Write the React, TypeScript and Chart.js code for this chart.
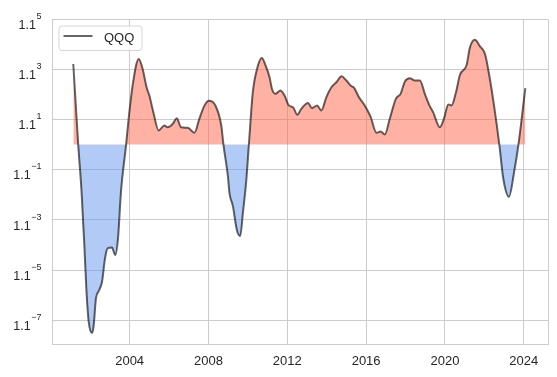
import React, { useEffect, useRef } from "react";
import { Chart, registerables } from "chart.js";

Chart.register(...registerables);

// Decimal years of the sampled points
const years = [
  2001.14, 2001.39, 2001.56, 2001.7, 2001.81, 2001.92, 2002.09, 2002.17, 2002.29, 2002.42,
  2002.6, 2002.75, 2002.88, 2003.1, 2003.27, 2003.41, 2003.56, 2003.82, 2003.95, 2004.15,
  2004.46, 2004.66, 2004.86, 2005.0, 2005.2, 2005.47, 2005.76, 2005.93, 2006.19, 2006.39,
  2006.61, 2006.95, 2007.29, 2007.54, 2007.8, 2008.02, 2008.35, 2008.65, 2008.76, 2008.98,
  2009.07, 2009.24, 2009.44, 2009.61, 2009.75, 2009.92, 2010.05, 2010.25, 2010.51, 2010.71,
  2010.9, 2011.1, 2011.22, 2011.39, 2011.65, 2011.86, 2012.08, 2012.29, 2012.51, 2012.71,
  2013.05, 2013.25, 2013.51, 2013.73, 2013.98, 2014.24, 2014.49, 2014.75, 2015.0, 2015.26,
  2015.37, 2015.64, 2015.93, 2016.22, 2016.53, 2016.74, 2016.95, 2017.2, 2017.51, 2017.75,
  2017.97, 2018.22, 2018.47, 2018.73, 2018.98, 2019.2, 2019.4, 2019.74, 2019.95, 2020.17,
  2020.34, 2020.56, 2020.76, 2021.1, 2021.27, 2021.52, 2021.78, 2022.03, 2022.25, 2022.49,
  2022.76, 2022.96, 2023.25, 2023.51, 2023.73, 2024.08,
];

// QQQ values expressed as exponents of 1.1 (value = 1.1^exponent)
const qqqExponent = [
  3.21, 0.0, -1.88, -4.0, -5.85, -7.04, -7.5, -7.24, -6.12, -5.85,
  -5.46, -4.53, -4.13, -4.1, -4.4, -3.73, -1.88, 0.0, 1.03, 2.35,
  3.41, 3.01, 2.28, 1.95, 1.3, 0.56, 0.76, 0.69, 0.83, 1.05,
  0.69, 0.67, 0.47, 1.03, 1.56, 1.75, 1.56, 0.76, 0.0, -1.22,
  -1.95, -2.45, -3.4, -3.64, -2.7, -1.42, 0.0, 2.08, 3.14, 3.45,
  3.14, 2.68, 2.22, 2.02, 2.15, 1.95, 1.56, 1.49, 1.19, 1.42,
  1.66, 1.45, 1.56, 1.36, 1.88, 2.28, 2.48, 2.72, 2.55, 2.32,
  2.28, 1.88, 1.56, 1.12, 0.47, 0.52, 0.4, 1.03, 1.82, 2.02,
  2.51, 2.64, 2.55, 2.55, 2.02, 1.58, 1.29, 0.69, 1.03, 1.6,
  1.56, 2.08, 2.77, 3.17, 3.87, 4.17, 3.91, 3.61, 2.75, 1.56,
  0.0, -1.35, -2.08, -1.09, 0.0, 2.25,
];

const xTickYears = [2004, 2008, 2012, 2016, 2020, 2024];
const yTickExponents = [-7, -5, -3, -1, 1, 3, 5];
const tickBase = "1.1";
const seriesLabel = "QQQ";

const FONT = "'Liberation Sans', Arial, sans-serif";
const TEXT = "#262626";
const GRID = "#cccccc";
const LINE = "rgba(0,0,0,0.6)";

const overlayPlugin = {
  id: "overlay",
  afterDraw(chart: any) {
    const ctx = chart.ctx as CanvasRenderingContext2D;
    const area = chart.chartArea;
    const yScale = chart.scales.y;
    ctx.save();
    // frame (top and right spines)
    ctx.strokeStyle = GRID;
    ctx.lineWidth = 1;
    ctx.beginPath();
    ctx.moveTo(Math.round(area.left) + 0.5, Math.round(area.top) + 0.5);
    ctx.lineTo(Math.round(area.right) + 0.5, Math.round(area.top) + 0.5);
    ctx.lineTo(Math.round(area.right) + 0.5, Math.round(area.bottom) + 0.5);
    ctx.stroke();

    // y tick labels with superscript exponents
    const rightX = area.left - 10.5;
    ctx.fillStyle = TEXT;
    ctx.textAlign = "left";
    ctx.textBaseline = "alphabetic";
    for (const e of yTickExponents) {
      const y = yScale.getPixelForValue(e);
      const expStr = e < 0 ? "\u2212" + Math.abs(e) : String(e);
      ctx.font = `9px ${FONT}`;
      const ew = ctx.measureText(expStr).width;
      ctx.fillText(expStr, rightX - ew, y - 0.3);
      ctx.font = `12.5px ${FONT}`;
      const bw = ctx.measureText(tickBase).width;
      ctx.fillText(tickBase, rightX - ew - 0.5 - bw, y + 9.6);
    }

    // legend
    const lx = 59, ly = 26, lw = 83, lh = 24.5, r = 3;
    ctx.beginPath();
    ctx.moveTo(lx + r, ly);
    ctx.lineTo(lx + lw - r, ly);
    ctx.quadraticCurveTo(lx + lw, ly, lx + lw, ly + r);
    ctx.lineTo(lx + lw, ly + lh - r);
    ctx.quadraticCurveTo(lx + lw, ly + lh, lx + lw - r, ly + lh);
    ctx.lineTo(lx + r, ly + lh);
    ctx.quadraticCurveTo(lx, ly + lh, lx, ly + lh - r);
    ctx.lineTo(lx, ly + r);
    ctx.quadraticCurveTo(lx, ly, lx + r, ly);
    ctx.closePath();
    ctx.fillStyle = "rgba(255,255,255,0.8)";
    ctx.fill();
    ctx.strokeStyle = "rgba(204,204,204,0.8)";
    ctx.lineWidth = 1;
    ctx.stroke();
    ctx.strokeStyle = LINE;
    ctx.lineWidth = 2;
    ctx.beginPath();
    ctx.moveTo(63.5, 36);
    ctx.lineTo(92.5, 36);
    ctx.stroke();
    ctx.fillStyle = TEXT;
    ctx.font = `13px ${FONT}`;
    ctx.textBaseline = "middle";
    ctx.fillText(seriesLabel, 104, 38);
    ctx.restore();
  },
};

export default function App() {
  const ref = useRef<HTMLCanvasElement | null>(null);
  useEffect(() => {
    if (!ref.current) return;
    const chart = new Chart(ref.current, {
      type: "line",
      data: {
        datasets: [
          {
            label: seriesLabel,
            data: years.map((x, i) => ({ x, y: qqqExponent[i] })),
            borderColor: LINE,
            borderWidth: 2,
            pointRadius: 0,
            cubicInterpolationMode: "monotone",
            fill: {
              target: { value: 0 },
              above: "rgba(255,99,71,0.5)",
              below: "rgba(100,149,237,0.5)",
            },
          } as any,
        ],
      },
      options: {
        animation: false,
        responsive: true,
        maintainAspectRatio: false,
        devicePixelRatio: 1,
        layout: { padding: { top: 19, right: 9, left: 0, bottom: 0 } },
        plugins: { legend: { display: false }, tooltip: { enabled: false } },
        scales: {
          x: {
            type: "linear",
            min: 2000.06,
            max: 2025.23,
            afterBuildTicks: (axis: any) => {
              axis.ticks = xTickYears.map((v) => ({ value: v }));
            },
            afterFit: (axis: any) => {
              axis.height = 33;
            },
            grid: { color: GRID, lineWidth: 1, drawTicks: false },
            border: { color: GRID, width: 1 },
            ticks: {
              color: TEXT,
              font: { family: FONT, size: 13 },
              padding: 10,
              maxRotation: 0,
              autoSkip: false,
              callback: (v: any) => String(v),
            },
          },
          y: {
            type: "linear",
            min: -7.94,
            max: 5,
            afterBuildTicks: (axis: any) => {
              axis.ticks = yTickExponents.map((v) => ({ value: v }));
            },
            afterFit: (axis: any) => {
              axis.width = 52;
            },
            grid: { color: GRID, lineWidth: 1, drawTicks: false },
            border: { color: GRID, width: 1 },
            ticks: { display: false },
          },
        },
      },
      plugins: [overlayPlugin],
    });
    return () => chart.destroy();
  }, []);
  return (
    <div style={{ position: "fixed", left: 0, top: 0, width: 557, height: 377, background: "#fff" }}>
      <canvas ref={ref} />
    </div>
  );
}
